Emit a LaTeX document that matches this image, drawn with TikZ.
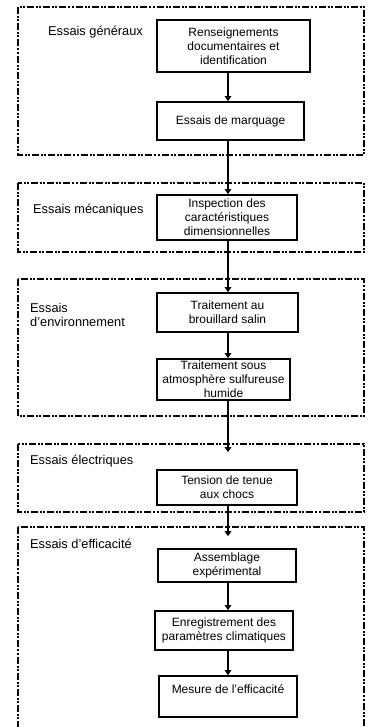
\documentclass[tikz,border=0pt]{standalone}
\usepackage{fontspec}
\setmainfont{Liberation Sans}
\usetikzlibrary{arrows.meta}

\begin{document}
\begin{tikzpicture}[%
      x=1pt, y=-1pt,
      groupe/.style={line width=1.6pt, dash pattern=on 7pt off 2pt on 2pt off 1.2pt on 2pt off 2pt},
      etape/.style={draw, line width=1.7pt, align=center, inner sep=1pt, font=\fontsize{12}{14}\selectfont},
      titre/.style={anchor=north west, inner sep=0pt, align=left, font=\fontsize{12.8}{14}\selectfont},
      fleche/.style={line width=2.8pt, -{Triangle[length=5pt,width=6.5pt]}},
      ]
      \useasboundingbox (0,0) rectangle (374,727);
      \clip (0,0) rectangle (374,727);
      
      \draw [groupe] (18,7) rectangle (364,155);
      \draw [groupe] (18,183) rectangle (364,252);
      \draw [groupe] (18,279) rectangle (364,416);
      \draw [groupe] (18,444) rectangle (364,512);
      \draw [groupe] (18,527) rectangle (364,745);
      
      \node [titre] (t1) at (48,26) {Essais généraux};
      \node [titre] (t2) at (33,204) {Essais mécaniques};
      \node [titre] (t3) at (30,303) {Essais\\d'environnement};
      \node [titre] (t4) at (30,455) {Essais électriques};
      \node [titre] (t5) at (30,539) {Essais d'efficacité};
      
      \node [etape, minimum width=153pt, minimum height=52pt] (b1) at (233.5,46) {Renseignements\\documentaires et\\identification};
      \node [etape, minimum width=147pt, minimum height=38pt] (b2) at (230.5,121) {Essais de marquage};
      \node [etape, minimum width=140pt, minimum height=45pt] (b3) at (227,217.5) {Inspection des\\caractéristiques\\dimensionnelles};
      \node [etape, minimum width=141pt, minimum height=39pt] (b4) at (227.5,312.5) {Traitement au\\brouillard salin};
      \node [etape, minimum width=133pt, minimum height=41pt] (b5) at (223.5,379.5) {Traitement sous\\atmosphère sulfureuse\\humide};
      \node [etape, minimum width=140pt, minimum height=35pt] (b6) at (227,487.5) {Tension de tenue\\aux chocs};
      \node [etape, minimum width=138pt, minimum height=33pt] (b7) at (227,565.5) {Assemblage\\expérimental};
      \node [etape, minimum width=138pt, minimum height=39pt] (b8) at (224,630.5) {Enregistrement des\\paramètres climatiques};
      \node [etape, minimum width=138pt, minimum height=41pt] (b9) at (228,696.5) {Mesure de l'efficacité\\\mbox{}};
      
      \coordinate (axe) at (228,0);
      \draw [fleche] (b1.south -| axe) -- (b2.north -| axe);
      \draw [fleche] (b2.south -| axe) -- (b3.north -| axe);
      \draw [fleche] (b3.south -| axe) -- (b4.north -| axe);
      \draw [fleche] (b4.south -| axe) -- (b5.north -| axe);
      \draw [fleche, shorten >=17pt] (b5.south -| axe) -- (b6.north -| axe);
      \draw [fleche, shorten >=12pt] (b6.south -| axe) -- (b7.north -| axe);
      \draw [fleche] (b7.south -| axe) -- (b8.north -| axe);
      \draw [fleche] (b8.south -| axe) -- (b9.north -| axe);
      \end{tikzpicture}
\end{document}
